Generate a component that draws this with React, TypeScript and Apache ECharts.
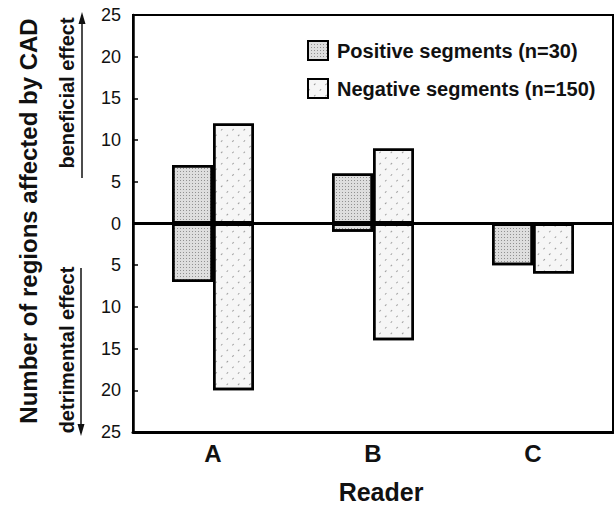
import React, { useEffect, useRef } from "react";
import * as echarts from "echarts";

const readers = ["A", "B", "C"];
const positiveBeneficial = [7, 6, 0];
const positiveDetrimental = [-7, -1, -5];
const negativeBeneficial = [12, 9, 0];
const negativeDetrimental = [-20, -14, -6];
const posName = "Positive segments (n=30)";
const negName = "Negative segments (n=150)";

const FONT = "Liberation Sans, Arial, Helvetica, sans-serif";

export default function App() {
  const ref = useRef<HTMLDivElement>(null);
  useEffect(() => {
    if (!ref.current) return;
    document.body.style.margin = "0";
    const chart = echarts.init(ref.current, null, { renderer: "svg" });
    const posStyle = {
      color: "#dedede",
      borderColor: "#000",
      borderWidth: 2.5,
      decal: {
        symbol: "rect",
        symbolSize: 1,
        dashArrayX: [1, 2],
        dashArrayY: [1, 2],
        color: "rgba(0,0,0,0.35)",
      },
    };
    const negStyle = {
      color: "#f6f6f6",
      borderColor: "#000",
      borderWidth: 2.5,
      decal: {
        symbol: "rect",
        symbolSize: 1,
        dashArrayX: [2, 6],
        dashArrayY: [1, 7],
        rotation: -Math.PI / 4,
        color: "rgba(0,0,0,0.35)",
      },
    };
    chart.setOption({
      animation: false,
      backgroundColor: "#fff",
      textStyle: { fontFamily: FONT },
      grid: {
        left: 133,
        right: 1,
        top: 15,
        bottom: 75,
        show: true,
        borderColor: "#000",
        borderWidth: 2,
        backgroundColor: "transparent",
      },
      legend: {
        orient: "vertical",
        left: 302,
        top: 35,
        itemWidth: 20,
        itemHeight: 19,
        itemGap: 17,
        icon: "rect",
        data: [posName, negName],
        textStyle: {
          fontFamily: FONT,
          fontSize: 20,
          fontWeight: "bold",
          color: "#111",
          lineHeight: 20,
          padding: [0, 0, 0, 4],
        },
      },
      xAxis: {
        type: "category",
        data: readers,
        axisLine: { show: true, onZero: false, lineStyle: { color: "#000", width: 3 } },
        axisTick: { show: false },
        axisLabel: {
          fontSize: 24,
          fontWeight: "bold",
          color: "#111",
          margin: 9,
          fontFamily: FONT,
        },
        splitLine: { show: false },
      },
      yAxis: {
        type: "value",
        min: -25,
        max: 25,
        interval: 5,
        axisLine: { show: true, lineStyle: { color: "#000", width: 2.5 } },
        axisTick: { show: true, inside: true, length: 5, lineStyle: { color: "#000", width: 1.5 } },
        axisLabel: {
          fontSize: 18,
          color: "#111",
          margin: 12,
          fontFamily: FONT,
          formatter: (v: number) => String(Math.abs(v)),
        },
        splitLine: { show: false },
      },
      series: [
        {
          name: posName,
          type: "bar",
          stack: "pos",
          data: positiveBeneficial,
          barWidth: 41,
          barGap: "0%",
          itemStyle: posStyle,
          markLine: {
            silent: true,
            symbol: "none",
            label: { show: false },
            lineStyle: { color: "#000", width: 3, type: "solid" },
            data: [{ yAxis: 0 }],
            z: 10,
          },
        },
        {
          name: posName,
          type: "bar",
          stack: "pos",
          data: positiveDetrimental,
          barWidth: 41,
          barGap: "0%",
          itemStyle: posStyle,
        },
        {
          name: negName,
          type: "bar",
          stack: "neg",
          data: negativeBeneficial,
          barWidth: 41,
          barGap: "0%",
          itemStyle: negStyle,
        },
        {
          name: negName,
          type: "bar",
          stack: "neg",
          data: negativeDetrimental,
          barWidth: 41,
          barGap: "0%",
          itemStyle: negStyle,
        },
      ],
      graphic: [
        {
          type: "text",
          x: 28,
          y: 221,
          rotation: Math.PI / 2,
          style: {
            text: "Number of regions affected by CAD",
            align: "center",
            verticalAlign: "middle",
            font: `bold 24px ${FONT}`,
            fill: "#111",
          },
        },
        {
          type: "text",
          x: 67,
          y: 93,
          rotation: Math.PI / 2,
          style: {
            text: "beneficial effect",
            align: "center",
            verticalAlign: "middle",
            font: `bold 20px ${FONT}`,
            fill: "#111",
          },
        },
        {
          type: "text",
          x: 67,
          y: 350,
          rotation: Math.PI / 2,
          style: {
            text: "detrimental effect",
            align: "center",
            verticalAlign: "middle",
            font: `bold 20px ${FONT}`,
            fill: "#111",
          },
        },
        {
          type: "line",
          shape: { x1: 82, y1: 178, x2: 82, y2: 20 },
          style: { stroke: "#111", lineWidth: 1.5 },
        },
        {
          type: "polygon",
          shape: { points: [[82, 12], [78.5, 24], [85.5, 24]] },
          style: { fill: "#111" },
        },
        {
          type: "line",
          shape: { x1: 81, y1: 268, x2: 81, y2: 428 },
          style: { stroke: "#111", lineWidth: 1.5 },
        },
        {
          type: "polygon",
          shape: { points: [[81, 436], [77.5, 424], [84.5, 424]] },
          style: { fill: "#111" },
        },
        {
          type: "text",
          x: 381,
          y: 492,
          style: {
            text: "Reader",
            align: "center",
            verticalAlign: "middle",
            font: `bold 25px ${FONT}`,
            fill: "#111",
          },
        },
      ],
    });
    return () => chart.dispose();
  }, []);
  return (
    <div
      ref={ref}
      style={{ position: "fixed", left: 0, top: 0, width: 614, height: 507 }}
    />
  );
}
